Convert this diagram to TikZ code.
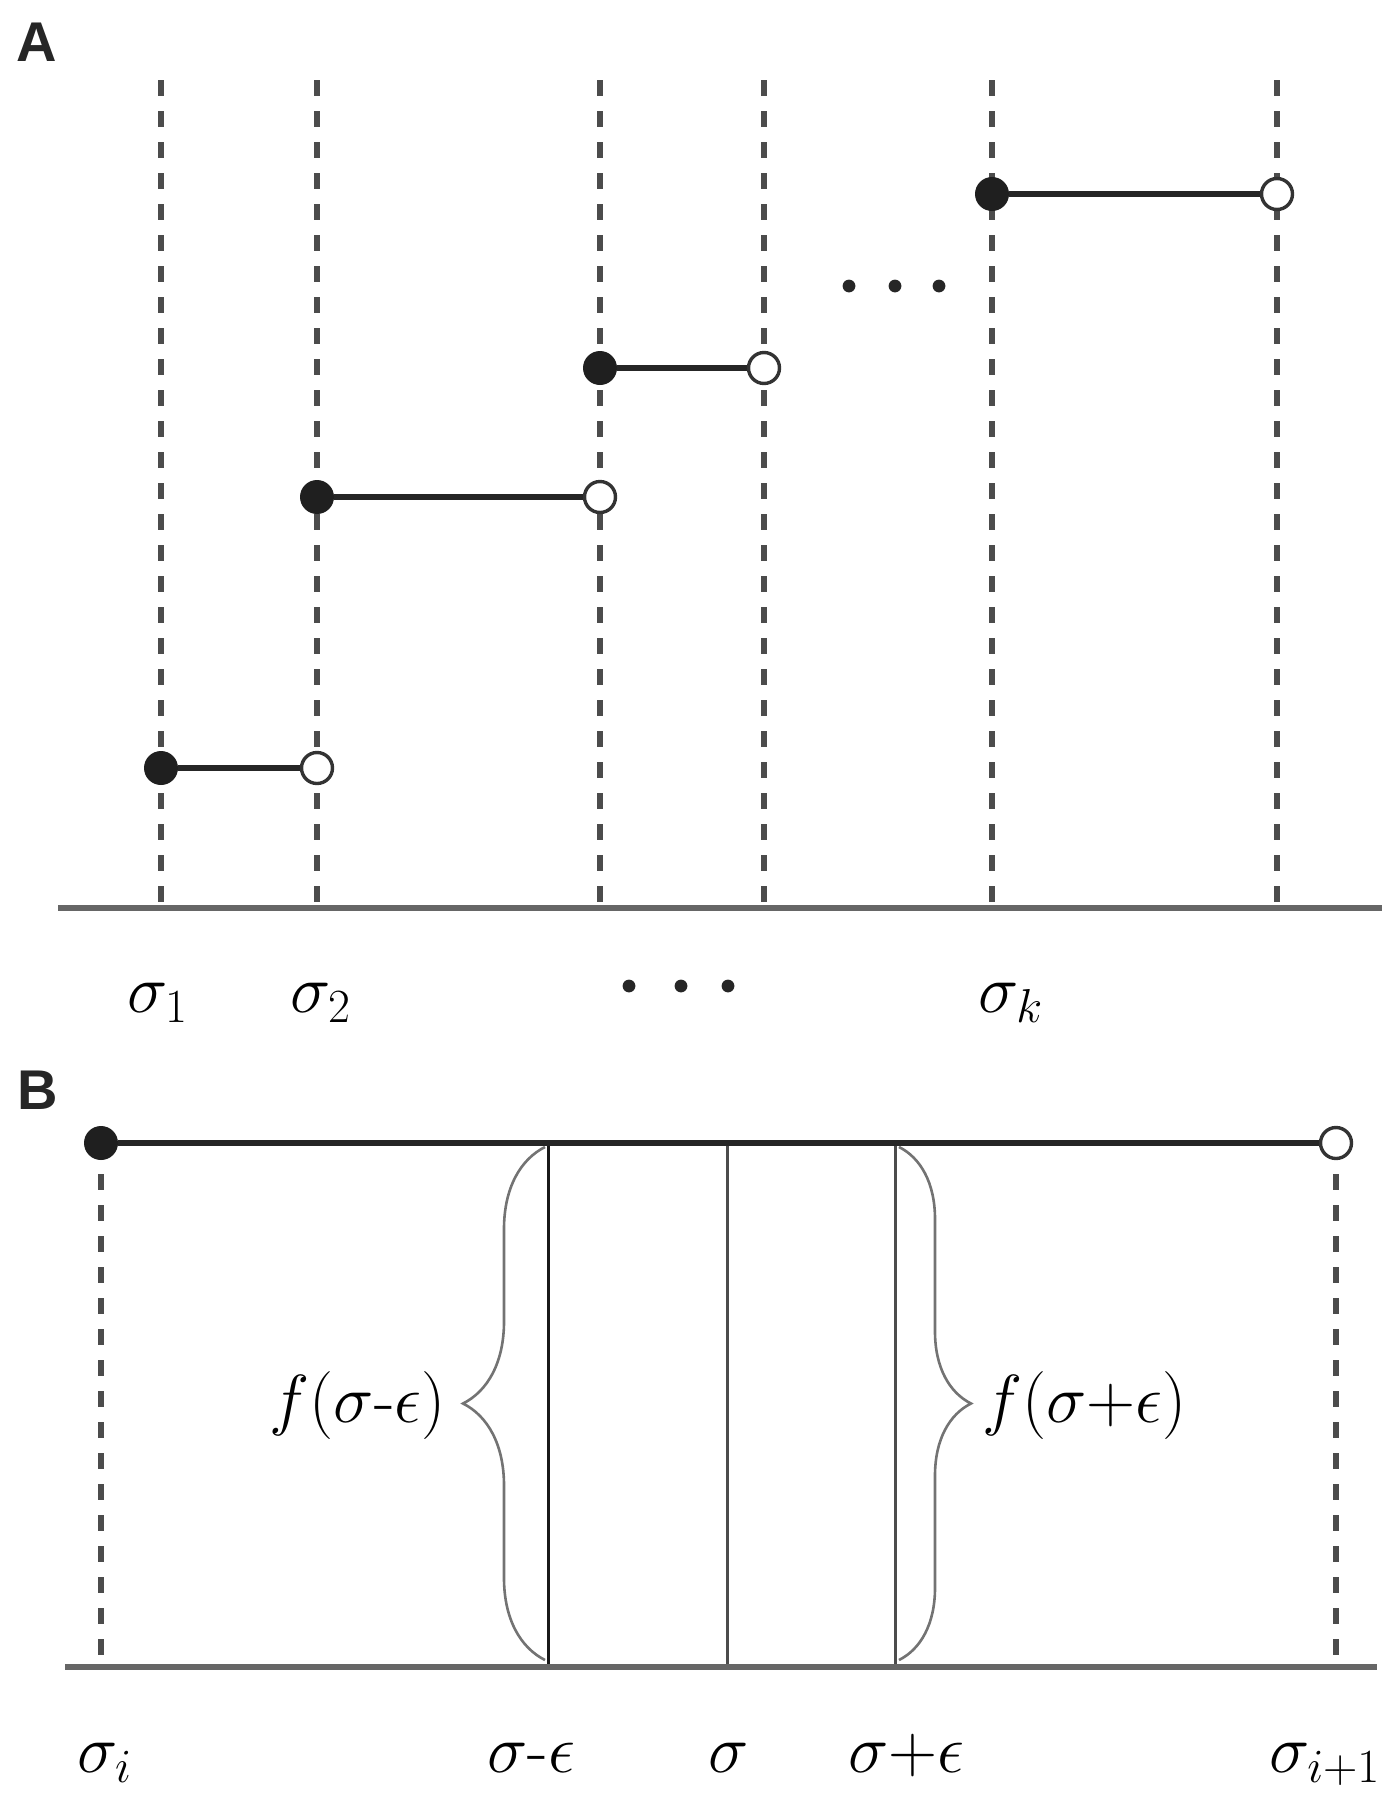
\RequirePackage{fix-cm}
\documentclass[tikz,border=0pt]{standalone}
\usepackage{amsmath}
\usepackage{fontspec}
\newfontfamily\panelfont{Liberation Sans}
\usetikzlibrary{decorations.pathreplacing}

\tikzset{
	guide/.style = {draw=black!70, line width=2.6pt, dash pattern=on 8pt off 7.5pt},
	level/.style = {draw=black!85, line width=3.4pt},
	axisline/.style = {draw=black!60, line width=2.6pt},
	closedpt/.style = {circle, fill=black!88, inner sep=0pt, minimum size=17pt},
	openpt/.style = {circle, draw=black!80, fill=white, line width=1.7pt, inner sep=0pt, minimum size=15.5pt},
	lbl/.style = {inner sep=0pt, font=\fontsize{34}{40}\selectfont},
	panel/.style = {font=\panelfont\bfseries\fontsize{28}{30}\selectfont, text=black!85},
	bracket/.style = {draw=black!55, line width=1.3pt, decorate, decoration={brace, amplitude=41pt}},
}

\begin{document}
\begin{tikzpicture}[x=0.5pt, y=-0.5pt]
	\useasboundingbox (0,0) rectangle (1394,1800);
	
	% panel A : step function
	\node[panel] (A) at (37,42) {A};
	
	\foreach \n/\x in {1/161, 2/317, 3/600, 4/764, 5/992, 6/1277} {
		\coordinate (top\n) at (\x,80);
		\coordinate (bot\n) at (\x,908);
		\draw[guide] (top\n) -- (bot\n);
	}
	\coordinate (axAl) at (58,908);
	\coordinate (axAr) at (1382,908);
	\draw[axisline] (axAl) -- (axAr);
	
	\foreach \n/\a/\b/\y in {1/161/317/768, 2/317/600/497, 3/600/764/368, 4/992/1277/194} {
		\node[closedpt] (in\n) at (\a,\y) {};
		\node[openpt] (out\n) at (\b,\y) {};
		\draw[level] (in\n) -- (out\n);
	}
	
	\foreach \x in {849, 895, 939} {
		\fill[black!85] (\x,286) circle (3.2pt);
	}
	
	\node[lbl, anchor=base west] (s1) at (127,1012) {$\sigma_1$};
	\node[lbl, anchor=base west] (s2) at (290,1012) {$\sigma_2$};
	\foreach \x in {629, 681, 728} {
		\fill[black!85] (\x,986) circle (3.2pt);
	}
	\node[lbl, anchor=base west] (sk) at (978,1012) {$\sigma_k$};
	
	% panel B : one interval
	\node[panel] (B) at (38,1090) {B};
	
	\coordinate (axBl) at (65,1667);
	\coordinate (axBr) at (1377,1667);
	\foreach \n/\x in {i/101, j/1336} {
		\coordinate (top\n) at (\x,1143);
		\coordinate (bot\n) at (\x,1667);
		\draw[guide] (top\n) -- (bot\n);
	}
	\foreach \n/\x/\c in {lo/548/black!90, mid/727/black!70, hi/895/black!70} {
		\coordinate (up\n) at (\x,1143);
		\coordinate (dn\n) at (\x,1667);
		\draw[\c, line width=1.5pt] (up\n) -- (dn\n);
	}
	\draw[axisline] (axBl) -- (axBr);
	
	\node[closedpt] (pi) at (101,1143) {};
	\node[openpt] (pj) at (1336,1143) {};
	\draw[level] (pi) -- (pj);
	
	% braces
	\coordinate (bl1) at (545,1660);
	\coordinate (bl2) at (545,1147);
	\draw[bracket] (bl1) -- (bl2);
	\coordinate (br1) at (899,1147);
	\coordinate (br2) at (899,1660);
	\draw[bracket, decoration={brace, amplitude=36pt}] (br1) -- (br2);
	
	\node[lbl, anchor=east] (fl) at (446,1405) {$f(\sigma\text{-}\epsilon)$};
	\node[lbl, anchor=west] (fr) at (982,1405) {$f(\sigma{+}\epsilon)$};
	
	% labels under the axis
	\node[lbl, anchor=base west] (si) at (77,1772) {$\sigma_i$};
	\node[lbl, anchor=base west] (sm) at (487,1772) {$\sigma\text{-}\epsilon$};
	\node[lbl, anchor=base west] (s0) at (708,1772) {$\sigma$};
	\node[lbl, anchor=base west] (sp) at (848,1772) {$\sigma{+}\epsilon$};
	\node[lbl, anchor=base west] (sj) at (1269,1772) {$\sigma_{i+1}$};
	
\end{tikzpicture}
\end{document}
